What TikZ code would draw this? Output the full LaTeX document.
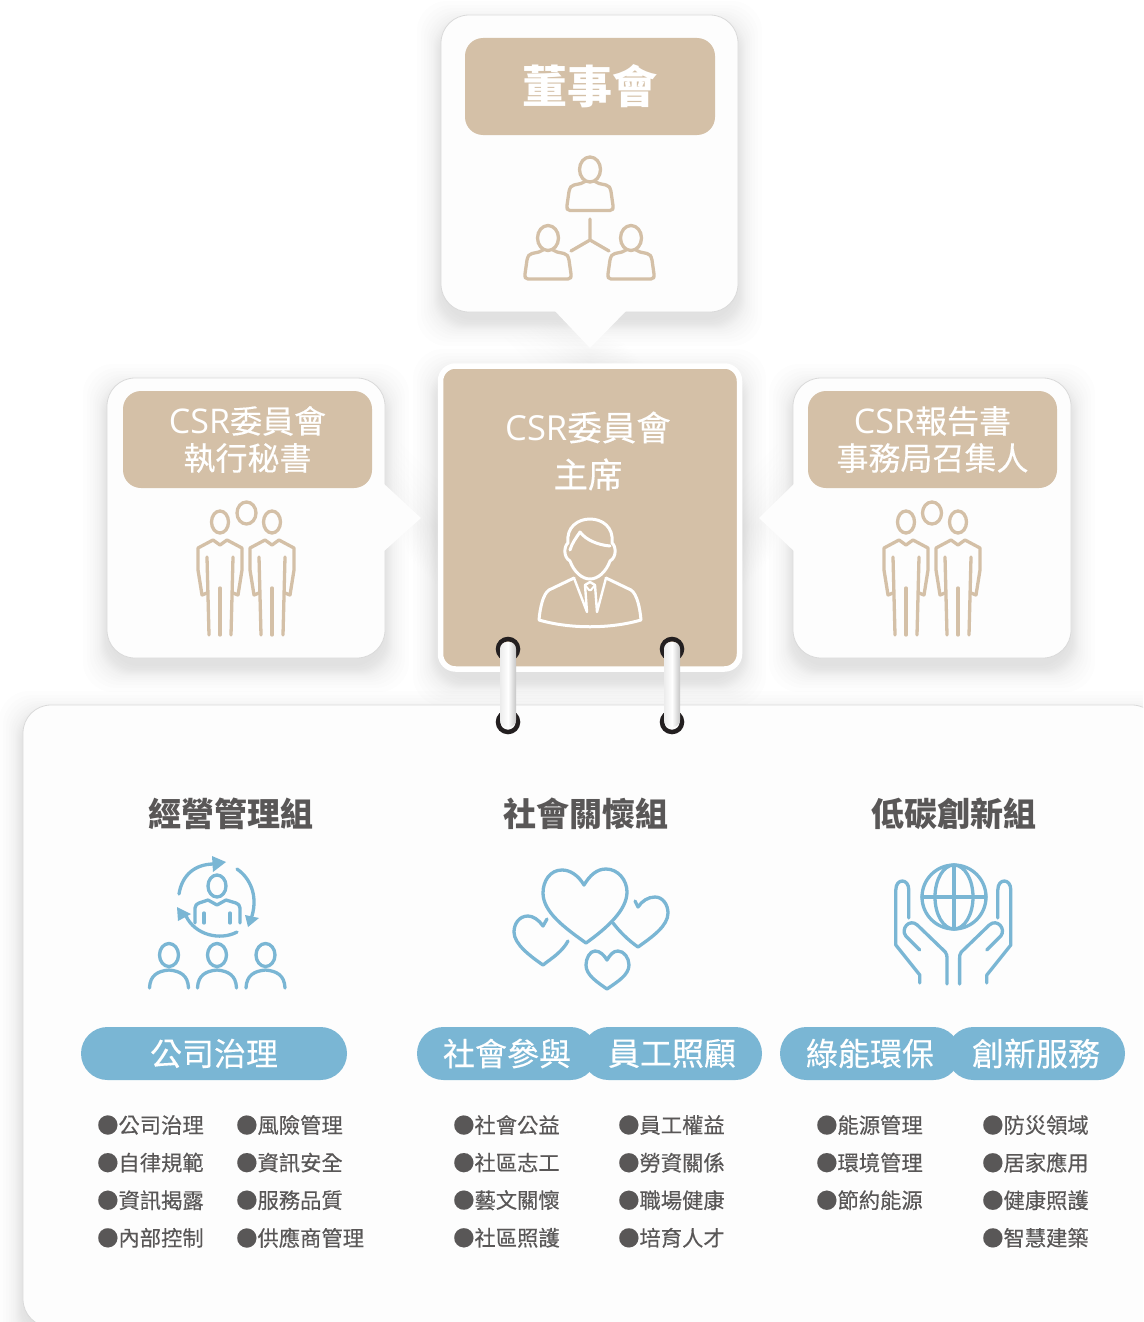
\documentclass[tikz,border=0pt]{standalone}
\usepackage{fontspec}
\setmainfont{Noto Sans CJK TC}
\newfontfamily\csrfont{Open Sans}
\newfontfamily\csrcjk[FakeBold=0.3]{Noto Sans CJK TC}
\usepackage{tikz}
\usetikzlibrary{positioning,calc}
\definecolor{csrtan}{RGB}{212,192,167}
\definecolor{csrblue}{RGB}{122,182,212}
\definecolor{csrgray}{RGB}{89,87,87}
\definecolor{csrring}{RGB}{35,31,32}
\definecolor{csrpanel}{RGB}{253,253,253}
\definecolor{csredge}{RGB}{218,218,218}
\tikzset{
  panel/.style={rectangle, rounded corners=28pt, draw=csredge, line width=0.8pt, fill=csrpanel, inner sep=0pt},
  headbox/.style={rectangle, rounded corners=18pt, fill=csrtan, text=white, inner sep=0pt, align=center, minimum width=249pt, minimum height=97pt, font=\fontsize{32}{37}\selectfont\csrcjk},
  pill/.style={rectangle, rounded corners=26.5pt, fill=csrblue, text=white, inner sep=0pt, minimum height=53pt, font=\fontsize{32}{32}\selectfont\csrcjk},
  grouptitle/.style={text=csrgray, inner sep=0pt, font=\fontsize{33}{33}\selectfont\bfseries},
  listitem/.style={anchor=west, text=csrgray, inner sep=0pt, font=\fontsize{21.3}{21.3}\selectfont\csrcjk},
  ringloop/.style={circle, draw=csrring, line width=4.5pt, minimum size=20pt, inner sep=0pt},
  ringbar/.style={rectangle, rounded corners=7pt, left color=gray!15, right color=gray!45, middle color=white, minimum width=16pt, minimum height=85pt, inner sep=0pt},
  iconbrown/.style={color=csrtan, line width=3.3pt, line cap=round, line join=round},
  iconblue/.style={color=csrblue, line width=3.3pt, line cap=round, line join=round},
  iconwhite/.style={color=white, line width=3pt, line cap=round, line join=round},
  bust/.pic={
    \draw (0,0) ellipse [x radius=10.5, y radius=12.5];
    \draw (-5,12) -- (-9,14) -- (-16,15.5) .. controls (-19,16) and (-20,18) .. (-21,22) -- (-23,36)
      .. controls (-23.5,39) and (-23,41) .. (-20,41) -- (20,41) .. controls (23,41) and (23.5,39) .. (23,36)
      -- (21,22) .. controls (20,18) and (19,16) .. (16,15.5) -- (9,14) -- (5,12);
  },
  suit/.pic={
    \draw (0,0) ellipse [x radius=8.5, y radius=11];
    \draw (-13,35) -- (-11,113);
    \draw (13,35) -- (11,113);
    \draw (0,66) -- (0,113);
    \draw (-13,71) -- (-18,73) -- (-22,48) -- (-22,26) -- (-7,18) -- (0,23) -- (7,18) -- (22,26) -- (22,48) -- (18,73) -- (13,71);
  },
  crowdbust/.pic={
    \draw (0,0) ellipse [x radius=9.5, y radius=11.5];
    \draw (-19.5,33) .. controls (-19,20) and (-11,16) .. (0,15) .. controls (11,16) and (19,20) .. (19.5,33);
  },
  openhand/.pic={
    \draw (-44.5,68) -- (-44.5,40) .. controls (-44.5,28) and (-57.5,28) .. (-57.5,40) -- (-57.5,95) -- (-33.5,125) -- (-33.5,133);
    \draw (-33.5,100) -- (-47.5,86) .. controls (-53,79) and (-44,68) .. (-36,75) -- (-8,102) .. controls (-6.5,104) and (-6.3,106) .. (-6.3,108) -- (-6.3,134);
  }
}
% shadow made of stacked pale layers
\newcommand{\softshadow}[4]{
  \foreach \s in {-2,0,2,3,4,5,6,7,8,10,12,14,17,20,24}
    \fill[black, opacity=0.0065, rounded corners=30pt] ({#1-\s},{#2-\s+10}) rectangle ({#3+\s},{#4+\s+10});
}
% #1,#2 is the pointer's middle, the layers grow out of it
\newcommand{\softtip}[6]{
  \foreach \s in {0,.1,.2,.3,.4,.5,.6,.7,.85,1,1.2,1.4}
    \fill[black, opacity=0.0055] ({#1+(#3-#1)*(1+\s)},{#2+8+(#4-#2)*(1+\s)}) -- ({#1+(#5-#1)*(1+\s)},{#2+8+(#6-#2)*(1+\s)}) -- ({#1+(#5-#1)*(1+\s)-(#3-#1)*(1+\s)},{#2+8+(#6-#2)*(1+\s)-(#4-#2)*(1+\s)}) -- cycle;
}
\begin{document}
\begin{tikzpicture}[x=1pt, y=-1pt]
    \clip (0,0) rectangle (1143,1322);
    \fill[white] (0,0) rectangle (1143,1322);

    % Shadows
    \softshadow{441}{15}{738}{312}
    \softtip{590}{300}{554}{312}{590}{348}
    \softshadow{107}{378}{385}{658}
    \softtip{375}{518}{385}{483}{421}{518}
    \softshadow{793}{378}{1071}{658}
    \softtip{803}{518}{793}{483}{759}{518}
    \softshadow{437}{363}{742}{672}
    \softshadow{23}{705}{1160}{1327}

    % Lower panel
    \node[panel, minimum width=1137pt, minimum height=622pt] (lowerpanel) at (591.5,1016) {};

    % Board
    \node[panel, minimum width=297pt, minimum height=297pt] (boardpanel) at (589.5,163.5) {};
    \fill[csrpanel] (554,310) -- (590,348) -- (627,310) -- cycle;
    \node[headbox, minimum width=250pt, font=\fontsize{45}{45}\selectfont\bfseries] (boardlabel) at (590,86.5) {董事會};
    \pic[iconbrown] at (590,169.5) {bust};
    \pic[iconbrown] at (548,238) {bust};
    \pic[iconbrown] at (631,238) {bust};
    \draw[iconbrown] (590,219) -- (590,240) -- (571,251);
    \draw[iconbrown] (590,240) -- (609,251);

    % Secretary
    \node[panel, minimum width=278pt, minimum height=280pt] (secpanel) at (246,518) {};
    \fill[csrpanel] (383,483) -- (421,518) -- (383,552) -- cycle;
    \node[headbox] (seclabel) at (247.5,439.5) {{\csrfont\fontsize{34}{37}\selectfont CSR}委員會\\執行秘書};
    \pic[iconbrown] at (220,522) {suit};
    \pic[iconbrown] at (272,522) {suit};
    \draw[iconbrown] (246.5,513) ellipse [x radius=9.5, y radius=11];

    % Report convener
    \node[panel, minimum width=278pt, minimum height=280pt] (reppanel) at (932,518) {};
    \fill[csrpanel] (795,483) -- (759,518) -- (795,552) -- cycle;
    \node[headbox] (replabel) at (932.5,439.5) {{\csrfont\fontsize{34}{37}\selectfont CSR}報告書\\事務局召集人};
    \pic[iconbrown] at (906,522) {suit};
    \pic[iconbrown] at (958,522) {suit};
    \draw[iconbrown] (932,513) ellipse [x radius=9.5, y radius=11];

    % Chair
    \node[rectangle, rounded corners=15pt, draw=white, line width=5.5pt, fill=csrtan, inner sep=0pt, minimum width=299pt, minimum height=303pt] (chair) at (590,517.5) {};
    \node[text=white, inner sep=0pt, align=center, font=\fontsize{34.5}{47}\selectfont\csrcjk] (chairlabel) at (588,451) {{\csrfont CSR}委員會\\主席};
    \draw[iconwhite] (570,561) .. controls (563,557) and (564,546) .. (568,543) .. controls (566,527) and (578,519) .. (590,519)
      .. controls (602,519) and (614,527) .. (612,543) .. controls (616,546) and (617,557) .. (610,561)
      .. controls (606,572) and (598,579) .. (590,579) .. controls (582,579) and (574,572) .. (570,561);
    \draw[iconwhite] (570,550) .. controls (572,543) and (576,538) .. (580,532) .. controls (586,540) and (598,545) .. (610,546);
    \draw[iconwhite] (574,578) -- (549,590) .. controls (543,594) and (540,608) .. (539,620)
      .. controls (570,629) and (610,629) .. (641,620) .. controls (640,608) and (637,594) .. (631,590) -- (606,578);
    \draw[iconwhite, line width=2.4pt] (574,578) -- (587,612) -- (585,585) -- (590,582) -- (595,585) -- (597,612) -- (606,578);
    \draw[iconwhite, line width=2pt] (585,585) -- (589,590) -- (591,590) -- (595,585);

    % Rings
    \node[ringloop] (ringatop) at (508,649) {};
    \node[ringloop] (ringabot) at (508,722) {};
    \node[ringbar] (ringa) at (508,684.5) {};
    \node[ringloop] (ringbtop) at (672,649) {};
    \node[ringloop] (ringbbot) at (672,722) {};
    \node[ringbar] (ringb) at (672,684.5) {};

    % Group titles
    \node[grouptitle] (govtitle) at (231,814) {經營管理組};
    \node[grouptitle] (soctitle) at (586,814) {社會關懷組};
    \node[grouptitle] (lowtitle) at (954,814) {低碳創新組};

    % Management icon
    \draw[iconblue] (217,886) ellipse [x radius=9, y radius=11];
    \begin{scope}[iconblue]
      \fill[draw=none] (212,856) -- (226,862) -- (213,872) -- cycle;
      \fill[draw=none] (245,915) -- (259,918) -- (248,927) -- cycle;
      \fill[draw=none] (177,907) -- (191,914) -- (178,921) -- cycle;
      \draw (179,894) .. controls (182,875) and (195,864) .. (214,864);
      \draw (237,869) .. controls (250,878) and (258,895) .. (252,916);
      \draw (237,932) .. controls (220,941) and (195,935) .. (186,916);
    \end{scope}
    \draw[iconblue] (195,923) -- (195,908) .. controls (195,905) and (197,904) .. (199,903) -- (208,900) -- (217,905) -- (226,900) -- (236,903) .. controls (238,904) and (240,905) .. (240,908) -- (240,923);
    \draw[iconblue] (204,913) -- (204,923);
    \draw[iconblue] (230,913) -- (230,923);
    \pic[iconblue] at (169,955) {crowdbust};
    \pic[iconblue] at (217,955) {crowdbust};
    \pic[iconblue] at (265.5,955) {crowdbust};

    % Hearts icon
    \draw[iconblue] (584,885) .. controls (578,875) and (570,870) .. (562,870) .. controls (550,870) and (543,881) .. (543,893)
      .. controls (543,912) and (565,928) .. (586,943) .. controls (607,928) and (627,910) .. (627,892)
      .. controls (627,880) and (618,869) .. (606,869) .. controls (597,869) and (590,875) .. (584,885) -- cycle;
    \draw[iconblue] (547,919) -- (543,926) .. controls (539,920) and (533,916) .. (528,916) .. controls (519,916) and (514,924) .. (514,932)
      .. controls (514,944) and (530,956) .. (543,965) .. controls (552,958) and (562,952) .. (568,941);
    \draw[iconblue] (635,901) -- (638,907) .. controls (642,901) and (648,897) .. (655,897) .. controls (663,897) and (668,905) .. (668,913)
      .. controls (668,926) and (652,937) .. (638,947) .. controls (628,940) and (620,932) .. (613,923);
    \draw[iconblue] (607,960) .. controls (604,955) and (600,951) .. (595,951) .. controls (590,951) and (586,958) .. (586,965)
      .. controls (586,975) and (597,982) .. (607,989) .. controls (617,982) and (629,975) .. (629,965)
      .. controls (629,958) and (624,951) .. (618,951) .. controls (613,951) and (610,955) .. (607,960) -- cycle;

    % Hands icon
    \draw[iconblue] (954,897) circle (32);
    \draw[iconblue] (954,897) ellipse [x radius=19, y radius=32];
    \draw[iconblue] (954,865) -- (954,929);
    \draw[iconblue] (922,897) -- (986,897);
    \pic[iconblue] at (953.3,850) {openhand};
    \pic[iconblue, xscale=-1] at (953.3,850) {openhand};

    % Pills
    \node[pill, minimum width=266pt] (govpill) at (214,1053.5) {公司治理};
    \node[pill, minimum width=180pt] (socpill) at (507,1053.5) {社會參與};
    \node[pill, minimum width=180pt] (emppill) at (672,1053.5) {員工照顧};
    \node[pill, minimum width=180pt] (engpill) at (870,1053.5) {綠能環保};
    \node[pill, minimum width=178pt] (svcpill) at (1036,1053.5) {創新服務};

    % Lists
    \foreach \txt [count=\i] in {公司治理,自律規範,資訊揭露,內部控制}
      \node[listitem] (gova\i) at (97,{1125+37.6*(\i-1)}) {●\txt};
    \foreach \txt [count=\i] in {風險管理,資訊安全,服務品質,供應商管理}
      \node[listitem] (govb\i) at (236,{1125+37.6*(\i-1)}) {●\txt};
    \foreach \txt [count=\i] in {社會公益,社區志工,藝文關懷,社區照護}
      \node[listitem] (soca\i) at (453,{1125+37.6*(\i-1)}) {●\txt};
    \foreach \txt [count=\i] in {員工權益,勞資關係,職場健康,培育人才}
      \node[listitem] (socb\i) at (618,{1125+37.6*(\i-1)}) {●\txt};
    \foreach \txt [count=\i] in {能源管理,環境管理,節約能源}
      \node[listitem] (lowa\i) at (816,{1125+37.6*(\i-1)}) {●\txt};
    \foreach \txt [count=\i] in {防災領域,居家應用,健康照護,智慧建築}
      \node[listitem] (lowb\i) at (982,{1125+37.6*(\i-1)}) {●\txt};
\end{tikzpicture}
\end{document}
